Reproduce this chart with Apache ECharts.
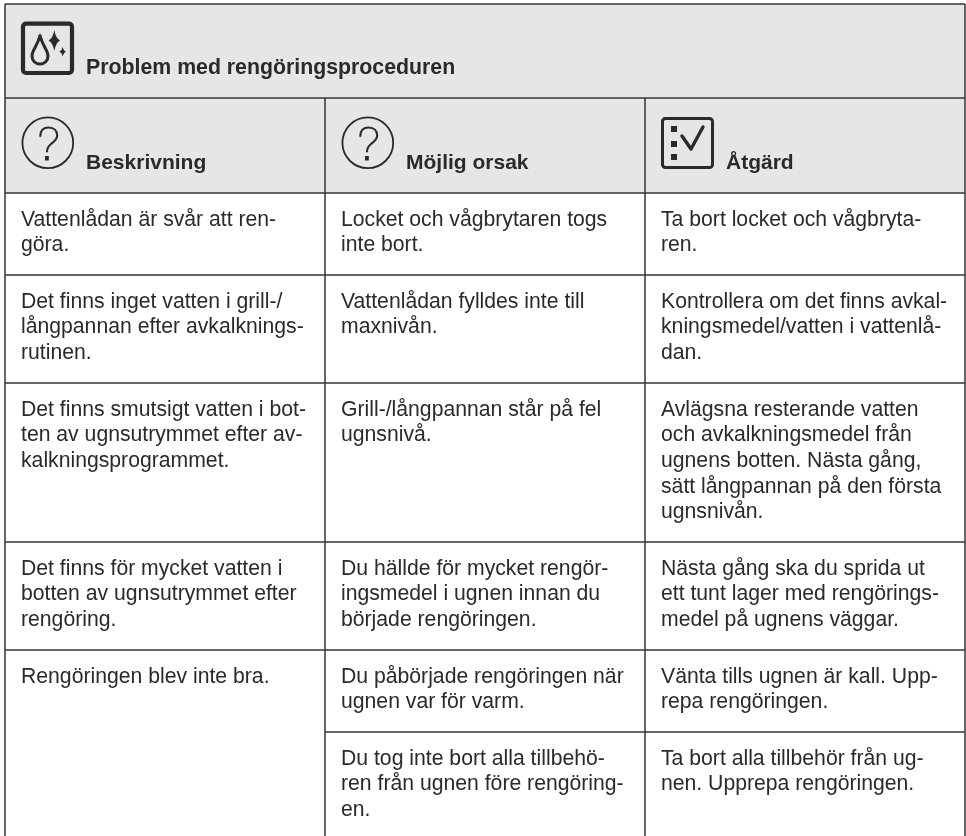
<!DOCTYPE html>
<html>
<head>
<meta charset="utf-8">
<style>
  html, body { margin: 0; padding: 0; background: #fff; }
  #chart { width: 966px; height: 836px; }
</style>
<script src="https://cdn.jsdelivr.net/npm/echarts@6/dist/echarts.min.js"></script>
</head>
<body>
<div id="chart"></div>
<script>
// table content
const title = 'Problem med rengöringsproceduren'
const columnTitles = ['Beskrivning', 'Möjlig orsak', 'Åtgärd']
const descriptions = [
  ['Vattenlådan är svår att ren-', 'göra.'],
  ['Det finns inget vatten i grill-/', 'långpannan efter avkalknings-', 'rutinen.'],
  ['Det finns smutsigt vatten i bot-', 'ten av ugnsutrymmet efter av-', 'kalkningsprogrammet.'],
  ['Det finns för mycket vatten i', 'botten av ugnsutrymmet efter', 'rengöring.'],
  ['Rengöringen blev inte bra.'],
  [],
]
const causes = [
  ['Locket och vågbrytaren togs', 'inte bort.'],
  ['Vattenlådan fylldes inte till', 'maxnivån.'],
  ['Grill-/långpannan står på fel', 'ugnsnivå.'],
  ['Du hällde för mycket rengör-', 'ingsmedel i ugnen innan du', 'började rengöringen.'],
  ['Du påbörjade rengöringen när', 'ugnen var för varm.'],
  ['Du tog inte bort alla tillbehö-', 'ren från ugnen före rengöring-', 'en.'],
]
const actions = [
  ['Ta bort locket och vågbryta-', 'ren.'],
  ['Kontrollera om det finns avkal-', 'kningsmedel/vatten i vattenlå-', 'dan.'],
  ['Avlägsna resterande vatten', 'och avkalkningsmedel från', 'ugnens botten. Nästa gång,', 'sätt långpannan på den första', 'ugnsnivån.'],
  ['Nästa gång ska du sprida ut', 'ett tunt lager med rengörings-', 'medel på ugnens väggar.'],
  ['Vänta tills ugnen är kall. Upp-', 'repa rengöringen.'],
  ['Ta bort alla tillbehör från ug-', 'nen. Upprepa rengöringen.'],
]

// table grid, in the units of the hidden axes
const columnEdges = [5, 325, 645, 965]
const tableTop = 4
const titleBottom = 98
const headerBottom = 193
const rowBottoms = [275, 383, 542, 650, 732]
const tableEnd = 836

const textColor = '#2a2a2b'
const lineColor = '#333436'
const headerFill = '#e5e6e8'
const fontFamily = '"Liberation Sans", Arial, sans-serif'
const bodySize = 21.2
const headSize = 21
const titleSize = 21.3
const lineStep = 25.7

const rowTops = [headerBottom, ...rowBottoms]

// [x1, y1, x2, y2]
const ruleData = [
  [columnEdges[0], tableTop, columnEdges[3], tableTop],
  [columnEdges[0], titleBottom, columnEdges[3], titleBottom],
  [columnEdges[0], headerBottom, columnEdges[3], headerBottom],
  [columnEdges[0], tableTop, columnEdges[0], tableEnd],
  [columnEdges[3], tableTop, columnEdges[3], tableEnd],
  [columnEdges[1], titleBottom, columnEdges[1], tableEnd],
  [columnEdges[2], titleBottom, columnEdges[2], tableEnd],
]
rowBottoms.forEach((y, i) => {
  // the last row of the first column spans two rows
  const from = i === rowBottoms.length - 1 ? columnEdges[1] : columnEdges[0]
  ruleData.push([from, y, columnEdges[3], y])
})

// [x, baseline, text, bold, size]
const textData = [[86, 75, title, 1, titleSize]]
columnTitles.forEach((t, c) => textData.push([columnEdges[c] + 81, 170, t, 1, headSize]))
;[descriptions, causes, actions].forEach((col, c) => {
  col.forEach((lines, r) => {
    lines.forEach((line, l) => {
      textData.push([columnEdges[c] + 16, rowTops[r] + 34 + l * lineStep, line, 0, bodySize])
    })
  })
})

// icon kind and its top-left corner
const iconKinds = ['clean', 'help', 'help', 'check']
const iconX = [22, 22, 342, 662]
const iconY = [22, 117, 117, 117]

const iconFrames = {
  clean: { x: 1, y: 1.7, width: 49, height: 49.3, line: 4.2 },
  check: { x: 0.5, y: 1.5, width: 50, height: 49, line: 3 },
}

const iconPaths = {
  clean: [
    { d: 'M10 34 C10 28 15.5 24 18 13.5 C20.5 24 26 28 26 34 C26 38.5 22.5 42 18 42 C13.5 42 10 38.5 10 34 Z', stroke: 3 },
    { d: 'M32.3 8 Q33.6 16 38 18.5 Q33.6 21 32.3 29 Q31 21 26.6 18.5 Q31 16 32.3 8 Z', fill: true },
    { d: 'M40.7 24.7 Q41.4 28.6 44 29.7 Q41.4 30.8 40.7 34.7 Q40 30.8 37.4 29.7 Q40 28.6 40.7 24.7 Z', fill: true },
  ],
  help: [
    { d: 'M18.3 19 C18.5 13 22 10.5 26.5 10.5 C32 10.5 35.2 14 35.2 18.5 C35.2 22.5 32 24.5 29 27 C26 29.5 25 31 25 34.5', stroke: 2.1 },
    { d: 'M23 39 H26.8 V43.5 H23 Z', fill: true },
  ],
  check: [
    { d: 'M9 9 H15 V15 H9 Z', fill: true },
    { d: 'M9 24 H15 V30 H9 Z', fill: true },
    { d: 'M9 37 H15 V43 H9 Z', fill: true },
    { d: 'M20 19 L29 32 L41 10', stroke: 3.4 },
  ],
}

function renderRule(params, api) {
  const a = api.coord([api.value(0), api.value(1)])
  const b = api.coord([api.value(2), api.value(3)])
  return {
    type: 'line',
    shape: { x1: a[0], y1: a[1], x2: b[0], y2: b[1] },
    style: { stroke: lineColor, lineWidth: 1.5 },
  }
}

function renderText(params, api) {
  const row = textData[params.dataIndex]
  const p = api.coord([row[0], row[1]])
  return {
    type: 'text',
    x: p[0],
    y: p[1] - row[4] * 0.34,
    style: {
      text: row[2],
      fill: textColor,
      fontFamily,
      fontSize: row[4],
      fontWeight: row[3] ? 'bold' : 'normal',
      verticalAlign: 'middle',
    },
  }
}

function renderIcon(params, api) {
  const kind = iconKinds[params.dataIndex]
  const p = api.coord([api.value(0), api.value(1)])
  const children = []
  if (kind === 'help') {
    children.push({
      type: 'circle',
      shape: { cx: 25.8, cy: 25.8, r: 25.4 },
      style: { fill: 'none', stroke: textColor, lineWidth: 1.8 },
    })
  } else {
    const f = iconFrames[kind]
    children.push({
      type: 'rect',
      shape: { x: f.x, y: f.y, width: f.width, height: f.height, r: 3 },
      style: { fill: 'none', stroke: textColor, lineWidth: f.line },
    })
  }
  iconPaths[kind].forEach(item => {
    children.push({
      type: 'path',
      shape: { pathData: item.d },
      style: item.fill
        ? { fill: textColor }
        : { fill: 'none', stroke: textColor, lineWidth: item.stroke, lineCap: 'round', lineJoin: 'round' },
    })
  })
  return { type: 'group', x: p[0], y: p[1], children }
}

function renderBand(params, api) {
  const a = api.coord([columnEdges[0], api.value(0)])
  const b = api.coord([columnEdges[3], api.value(1)])
  return {
    type: 'rect',
    shape: { x: a[0], y: a[1], width: b[0] - a[0], height: b[1] - a[1] },
    style: { fill: headerFill },
  }
}

const chart = echarts.init(document.getElementById('chart'), null, { renderer: 'canvas' })
chart.setOption({
  animation: false,
  backgroundColor: '#ffffff',
  grid: { left: 0, right: 0, top: 0, bottom: 0 },
  xAxis: { type: 'value', min: 0, max: 966, show: false },
  yAxis: { type: 'value', min: 0, max: 836, inverse: true, show: false },
  series: [
    { type: 'custom', renderItem: renderBand, data: [[tableTop, headerBottom]], silent: true },
    { type: 'custom', renderItem: renderRule, data: ruleData, silent: true },
    { type: 'custom', renderItem: renderIcon, data: iconX.map((x, i) => [x, iconY[i]]), silent: true },
    { type: 'custom', renderItem: renderText, data: textData.map(d => [d[0], d[1]]), silent: true },
  ],
})
window.addEventListener('resize', () => chart.resize())
</script>
</body>
</html>
